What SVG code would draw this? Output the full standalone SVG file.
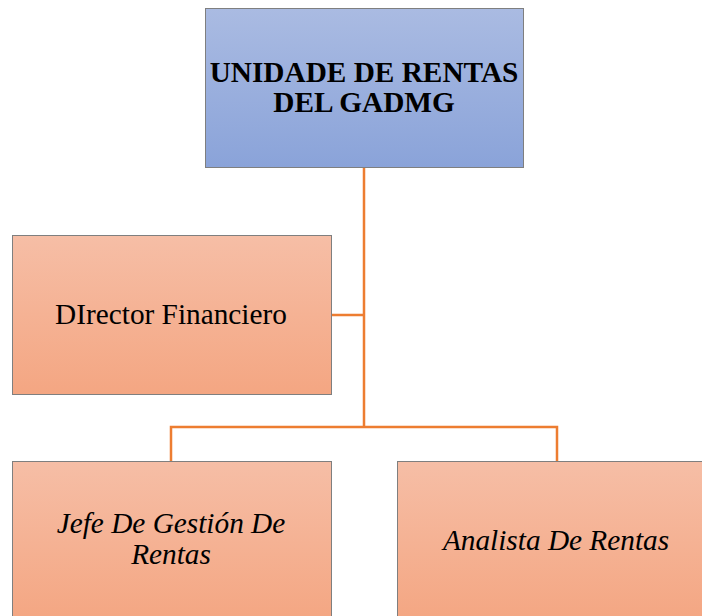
<svg xmlns="http://www.w3.org/2000/svg" width="702" height="616" viewBox="0 0 702 616">
<defs>
<linearGradient id="gBlue" x1="0" y1="0" x2="0" y2="1"><stop offset="0" stop-color="#aabbe2"/><stop offset="1" stop-color="#8aa3d9"/></linearGradient>
<linearGradient id="gOr" x1="0" y1="0" x2="0" y2="1"><stop offset="0" stop-color="#f6bea6"/><stop offset="1" stop-color="#f4a682"/></linearGradient>
<style>
.box{stroke:#7f7f7f;stroke-width:1}
.blue{fill:url(#gBlue)}
.or{fill:url(#gOr)}
.c{stroke:#ed7d31;stroke-width:2.5;fill:none}
.t{font-family:"Liberation Serif",serif;font-size:29.3px;fill:#000;text-anchor:middle}
.b{font-weight:bold}
.i{font-style:italic}
</style>
</defs>
<g id="connectors">
<path class="c" d="M364 167 V427"/>
<path class="c" d="M331 315 H364"/>
<path class="c" d="M171 461 V427 H557 V461"/>
</g>
<g id="top">
<rect class="box blue" x="205.5" y="8.5" width="318" height="159"/>
<text class="t b" x="364" y="82">UNIDADE DE RENTAS</text>
<text class="t b" x="364" y="112">DEL GADMG</text>
</g>
<g id="director">
<rect class="box or" x="12.5" y="235.5" width="319" height="159"/>
<text class="t" x="171" y="324">DIrector Financiero</text>
</g>
<g id="jefe">
<rect class="box or" x="12.5" y="461.5" width="319" height="160"/>
<text class="t i" x="171" y="533">Jefe De Gestión De</text>
<text class="t i" x="171" y="564">Rentas</text>
</g>
<g id="analista">
<rect class="box or" x="397.5" y="461.5" width="319" height="160"/>
<text class="t i" x="556" y="550">Analista De Rentas</text>
</g>
</svg>
